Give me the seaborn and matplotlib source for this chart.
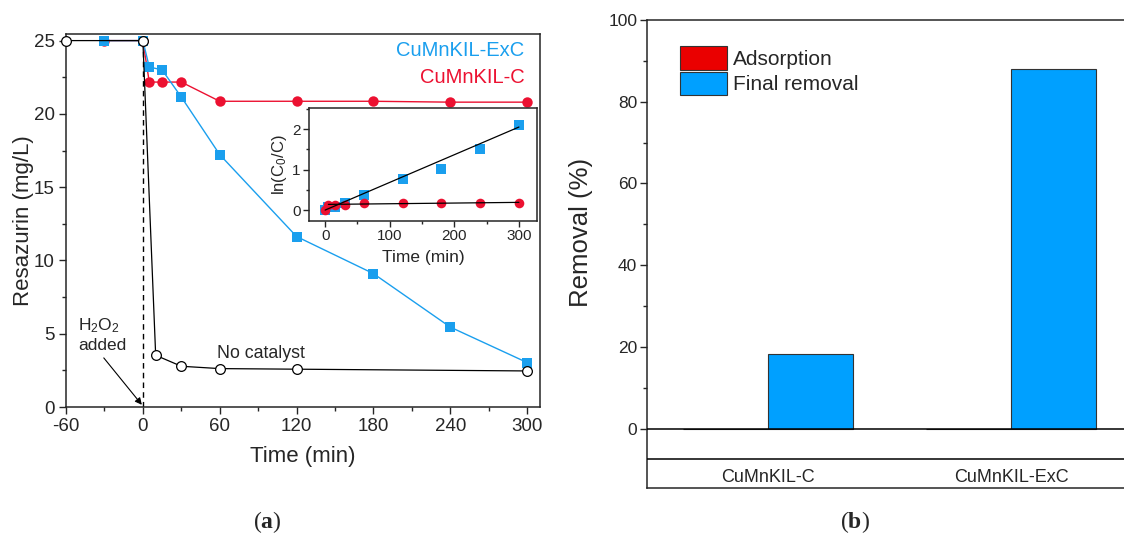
import numpy as np
import pandas as pd
import matplotlib
matplotlib.use("Agg")
import matplotlib.pyplot as plt
import seaborn as sns
from matplotlib.ticker import MultipleLocator, FixedLocator

# ---------------- data: panel (a) ----------------
time_nocat = [-60, 0, 10, 30, 60, 120, 300]
conc_nocat = [25.0, 25.0, 3.53, 2.78, 2.62, 2.58, 2.46]

time_cat = [-30, 0, 5, 15, 30, 60, 120, 180, 240, 300]
conc_exc = [25.0, 25.0, 23.2, 23.0, 21.15, 17.22, 11.63, 9.1, 5.45, 3.03]
conc_c = [25.0, 25.0, 22.17, 22.17, 22.17, 20.86, 20.86, 20.86, 20.8, 20.8]

h2o2_time = 0
c_initial = 25.0

# inset: ln(C0/C) vs time
inset_time = [0, 5, 15, 30, 60, 120, 180, 240, 300]
ln_exc = [0.0, 0.07, 0.08, 0.17, 0.37, 0.77, 1.01, 1.52, 2.11]
ln_c = [0.0, 0.13, 0.13, 0.12, 0.18, 0.18, 0.18, 0.18, 0.18]
fit_exc_time = [0, 300]
fit_exc_val = [0.0, 2.05]
fit_c_time = [5, 300]
fit_c_val = [0.14, 0.19]

# ---------------- data: panel (b) ----------------
catalysts = ["CuMnKIL-C", "CuMnKIL-ExC"]
adsorption = [0.0, 0.0]
final_removal = [18.3, 87.9]
series_names = ["Adsorption", "Final removal"]

BLUE = "#1A9FEE"
RED = "#EC1131"
BAR_RED = "#EA0000"
BAR_BLUE = "#00A0FF"

sns.set_theme(style="ticks")
plt.rcParams["font.family"] = ["Liberation Sans", "DejaVu Sans"]
plt.rcParams["mathtext.fontset"] = "custom"
plt.rcParams["mathtext.rm"] = "Liberation Sans"
plt.rcParams["mathtext.it"] = "Liberation Sans:italic"
plt.rcParams["mathtext.bf"] = "Liberation Serif:bold"
plt.rcParams["axes.unicode_minus"] = False
plt.rcParams["axes.linewidth"] = 1.1
plt.rcParams["xtick.direction"] = "out"
plt.rcParams["ytick.direction"] = "out"

W, H = 1124, 540
fig = plt.figure(figsize=(W / 100, H / 100), dpi=100)

def box(l, t, r, b):
    return [l / W, 1 - b / H, (r - l) / W, (b - t) / H]

# ================= panel (a) =================
ax = fig.add_axes(box(66, 34, 540, 407))
ax.set_xlim(-60, 310)
ax.set_ylim(0, 25.45)

ax.vlines(h2o2_time, 0, c_initial, colors="black", linestyles=(0, (4, 3)), lw=1.0, zorder=2)

sns.lineplot(x=time_cat, y=conc_c, ax=ax, color=RED, lw=1.0, marker="o",
             markersize=7.5, markeredgewidth=0, sort=False, estimator=None,
             clip_on=False, zorder=3)
sns.lineplot(x=time_cat, y=conc_exc, ax=ax, color=BLUE, lw=1.0, marker="s",
             markersize=6.8, markeredgewidth=0, sort=False, estimator=None,
             clip_on=False, zorder=4)
sns.lineplot(x=time_nocat, y=conc_nocat, ax=ax, color="black", lw=0.9, marker="o",
             markersize=7, markerfacecolor="white", markeredgecolor="black",
             markeredgewidth=0.9, sort=False, estimator=None, clip_on=False, zorder=5)

ax.set_xticks([-60, 0, 60, 120, 180, 240, 300])
ax.xaxis.set_minor_locator(MultipleLocator(30))
ax.set_yticks([0, 5, 10, 15, 20, 25])
ax.yaxis.set_minor_locator(MultipleLocator(2.5))
ax.tick_params(axis="both", which="major", length=5, width=1.0, labelsize=13.5, pad=3)
ax.tick_params(axis="both", which="minor", length=3, width=1.0)
ax.set_xlabel("Time (min)", fontsize=16, labelpad=8)
ax.set_ylabel("Resazurin (mg/L)", fontsize=16, labelpad=0)
for s in ax.spines.values():
    s.set_visible(True)
    s.set_linewidth(1.1)

ax.text(298, 24.3, "CuMnKIL-ExC", color=BLUE, fontsize=14.5, ha="right", va="center")
ax.text(298, 22.45, "CuMnKIL-C", color=RED, fontsize=14.5, ha="right", va="center")
ax.text(-50.5, 4.95, "H$_2$O$_2$\nadded", fontsize=12.5, ha="left", va="center",
        linespacing=1.25)
ax.annotate("", xy=(-0.8, 0.15), xytext=(-30.5, 3.35),
            arrowprops=dict(arrowstyle="-|>", color="black", lw=0.8,
                            mutation_scale=10, shrinkA=0, shrinkB=0))
ax.text(57.5, 3.67, "No catalyst", fontsize=12.8, ha="left", va="center")

# ---------------- inset ----------------
axi = fig.add_axes(box(309, 108, 537, 221))
axi.set_facecolor("white")
sns.scatterplot(x=inset_time, y=ln_exc, ax=axi, color=BLUE, marker="s", s=42,
                linewidth=0, zorder=3)
sns.scatterplot(x=inset_time, y=ln_c, ax=axi, color=RED, marker="o", s=48,
                linewidth=0, zorder=4)
sns.lineplot(x=fit_exc_time, y=fit_exc_val, ax=axi, color="black", lw=0.9, zorder=5)
sns.lineplot(x=fit_c_time, y=fit_c_val, ax=axi, color="black", lw=0.9, zorder=5)
axi.set_xlim(-25, 328)
axi.set_ylim(-0.27, 2.52)
axi.set_xticks([0, 100, 200, 300])
axi.xaxis.set_minor_locator(MultipleLocator(50))
axi.set_yticks([0, 1, 2])
axi.yaxis.set_minor_locator(MultipleLocator(0.5))
axi.tick_params(axis="both", which="major", length=4, width=1.0, labelsize=11, pad=2)
axi.tick_params(axis="both", which="minor", length=2.5, width=1.0)
axi.set_xlabel("Time (min)", fontsize=12.5, labelpad=5)
axi.set_ylabel("ln(C$_0$/C)", fontsize=12, labelpad=2)
for s in axi.spines.values():
    s.set_visible(True)
    s.set_linewidth(1.1)

# ================= panel (b) =================
axb = fig.add_axes(box(647, 20, W, 488))
df = pd.DataFrame({
    "catalyst": catalysts * 2,
    "series": [series_names[0]] * len(catalysts) + [series_names[1]] * len(catalysts),
    "removal": adsorption + final_removal,
})
sns.barplot(data=df, x="catalyst", y="removal", hue="series", ax=axb,
            palette={series_names[0]: BAR_RED, series_names[1]: BAR_BLUE},
            width=0.7, gap=0, edgecolor="#333333", linewidth=0.8, saturation=1)
axb.set_xlim(-0.5, 1.465)
axb.set_ylim(-14.5, 100)
axb.axhline(0, color="black", lw=1.1, zorder=5)
axb.axhline(-7.3, color="black", lw=1.1, zorder=5)
axb.set_yticks([0, 20, 40, 60, 80, 100])
axb.yaxis.set_minor_locator(FixedLocator([10, 30, 50, 70, 90]))
axb.tick_params(axis="y", which="major", length=5, width=1.0, labelsize=12.5, pad=2)
axb.tick_params(axis="y", which="minor", length=3, width=1.0)
axb.tick_params(axis="x", length=0, labelsize=13, pad=-14)
axb.set_xlabel("")
axb.set_ylabel("Removal (%)", fontsize=18.5)
axb.yaxis.set_label_coords(-0.113, 0.547)
axb.spines["right"].set_visible(False)
for k in ["top", "left", "bottom"]:
    axb.spines[k].set_visible(True)
    axb.spines[k].set_linewidth(1.1)

handles, labels = axb.get_legend_handles_labels()
axb.legend(handles, labels, loc="upper left", bbox_to_anchor=(0.069, 0.944),
           frameon=False, fontsize=15, borderpad=0, borderaxespad=0,
           handlelength=2.25, handleheight=1.35, handletextpad=0.3, labelspacing=0.1)

# captions
fig.text(267 / W, 1 - 522 / H, r"($\mathbf{a}$)", fontsize=17, ha="center", va="center",
         family="Liberation Serif")
fig.text(855 / W, 1 - 522 / H, r"($\mathbf{b}$)", fontsize=17, ha="center", va="center",
         family="Liberation Serif")

fig.savefig("out.png", dpi=100)
